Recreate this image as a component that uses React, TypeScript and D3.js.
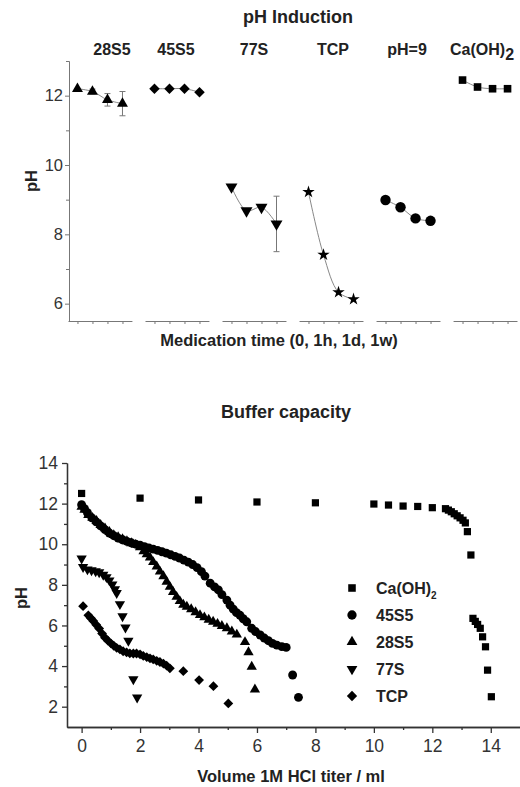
import React, { useEffect, useRef } from 'react';
import * as d3 from 'd3';

// --- pH induction (top) ---
const groups = ['28S5', '45S5', '77S', 'TCP', 'pH=9', 'Ca(OH)2'];
const times = ['0', '1h', '1d', '1w'];
const ph28S5 = [12.2, 12.12, 11.88, 11.77];
const err28S5 = [0, 0.07, 0.18, 0.35];
const ph45S5 = [12.2, 12.2, 12.2, 12.1];
const ph77S = [9.37, 8.68, 8.78, 8.3];
const err77S = [0, 0, 0, 0.8];
const phTCP = [9.22, 7.41, 6.33, 6.13];
const phPH9 = [8.99, 8.78, 8.46, 8.39];
const phCaOH = [12.45, 12.25, 12.2, 12.2];

// --- Buffer capacity (bottom): [ml, pH] ---
const bufCaOH = [
  [0, 12.5], [2, 12.27], [4, 12.18], [6, 12.08], [8, 12.04], [10, 11.98], [10.5, 11.93],
  [11, 11.88], [11.5, 11.86], [12, 11.8], [12.45, 11.75], [12.55, 11.68], [12.65, 11.6],
  [12.75, 11.5], [12.85, 11.4], [12.95, 11.3], [13.05, 11.18], [13.13, 11.05], [13.2, 10.62],
  [13.32, 9.47], [13.39, 6.35], [13.47, 6.2], [13.55, 6.05], [13.64, 5.86], [13.72, 5.44],
  [13.82, 4.95], [13.89, 3.8], [14.02, 2.49],
];
const buf45S5 = [
  [0, 11.95], [0.1, 11.75], [0.2, 11.55], [0.35, 11.3], [0.5, 11.1], [0.65, 10.9], [0.8, 10.72],
  [0.95, 10.55], [1.1, 10.42], [1.25, 10.3], [1.4, 10.22], [1.55, 10.14], [1.7, 10.07],
  [1.85, 10.0], [2.0, 9.95], [2.15, 9.88], [2.3, 9.82], [2.45, 9.76], [2.6, 9.7], [2.75, 9.63],
  [2.9, 9.56], [3.05, 9.48], [3.2, 9.4], [3.35, 9.32], [3.5, 9.22], [3.65, 9.12], [3.8, 9.0],
  [3.95, 8.85], [4.1, 8.65], [4.22, 8.43], [4.4, 8.08], [4.55, 7.9], [4.68, 7.75], [4.8, 7.52],
  [4.97, 7.25], [5.08, 7.0], [5.19, 6.8], [5.3, 6.63], [5.42, 6.5], [5.53, 6.33], [5.65, 6.18],
  [5.82, 5.86], [5.95, 5.7], [6.11, 5.53], [6.25, 5.38], [6.39, 5.25], [6.53, 5.12], [6.68, 5.03],
  [6.85, 4.96], [7.0, 4.92], [7.22, 3.56], [7.42, 2.46],
];
const buf28S5 = [
  [0, 11.85], [0.1, 11.7], [0.23, 11.44], [0.37, 11.3], [0.51, 11.15], [0.65, 10.95], [0.8, 10.78],
  [0.95, 10.6], [1.1, 10.45], [1.25, 10.35], [1.4, 10.25], [1.55, 10.15], [1.7, 10.05],
  [1.85, 9.97], [2.0, 9.85], [2.12, 9.65], [2.23, 9.5], [2.34, 9.35], [2.45, 9.12], [2.57, 8.9],
  [2.68, 8.65], [2.8, 8.42], [2.91, 8.15], [3.02, 7.9], [3.13, 7.65], [3.25, 7.41], [3.36, 7.2],
  [3.48, 7.02], [3.6, 6.92], [3.75, 6.8], [3.9, 6.65], [4.05, 6.51], [4.2, 6.4], [4.35, 6.28],
  [4.5, 6.18], [4.65, 6.08], [4.8, 5.97], [4.97, 5.86], [5.14, 5.7], [5.31, 5.55], [5.59, 5.18],
  [5.71, 4.68], [5.82, 3.97], [5.93, 2.85],
];
const buf77S = [
  [0, 9.3], [0.05, 8.88], [0.2, 8.76], [0.34, 8.72], [0.48, 8.67], [0.6, 8.62], [0.74, 8.5],
  [0.85, 8.38], [0.95, 8.22], [1.05, 8.02], [1.14, 7.78], [1.2, 7.6], [1.31, 7.05], [1.4, 6.45],
  [1.5, 5.9], [1.6, 5.25], [1.77, 3.35], [1.9, 2.45],
];
const bufTCP = [
  [0.05, 6.95], [0.23, 6.5], [0.32, 6.35], [0.4, 6.22], [0.5, 6.03], [0.6, 5.85], [0.7, 5.6],
  [0.8, 5.4], [0.9, 5.25], [1.0, 5.12], [1.1, 5.0], [1.2, 4.9], [1.31, 4.82], [1.42, 4.73],
  [1.54, 4.67], [1.65, 4.63], [1.77, 4.62], [1.88, 4.62], [2.0, 4.58], [2.11, 4.5], [2.23, 4.44],
  [2.34, 4.38], [2.45, 4.33], [2.57, 4.26], [2.68, 4.2], [2.8, 4.12], [2.91, 4.02], [3.02, 3.89],
  [3.48, 3.75], [4.02, 3.31], [4.51, 3.01], [5.02, 2.16],
];

const FONT = "'Liberation Sans', Arial, Helvetica, sans-serif";
const INK = '#222';

// square diamond (rotated square)
const symbolDiamondSq = {
  draw(ctx: any, size: number) {
    const r = Math.sqrt(size / 2);
    ctx.moveTo(0, -r);
    ctx.lineTo(r, 0);
    ctx.lineTo(0, r);
    ctx.lineTo(-r, 0);
    ctx.closePath();
  },
};

const App = () => {
  const svgRef = useRef<SVGSVGElement>(null);

  useEffect(() => {
    const svg = d3.select(svgRef.current);
    svg.selectAll('*').remove();

    // ================= Top chart =================
    const top = svg.append('g');
    const xGroup = d3.scaleBand().domain(groups).range([68, 517]).paddingInner(0.17);
    const xTime = d3.scalePoint().domain(times).range([0, xGroup.bandwidth()]).padding(0.63);
    const yTop = d3.scaleLinear().domain([5.5, 13]).range([321, 61]);

    const series = [
      { g: '28S5', v: ph28S5, e: err28S5, sym: d3.symbolTriangle, size: 52, rot: 0 },
      { g: '45S5', v: ph45S5, e: null, sym: symbolDiamondSq, size: 55, rot: 0 },
      { g: '77S', v: ph77S, e: err77S, sym: d3.symbolTriangle, size: 62, rot: 180 },
      { g: 'TCP', v: phTCP, e: null, sym: d3.symbolStar, size: 48, rot: 0 },
      { g: 'pH=9', v: phPH9, e: null, sym: d3.symbolCircle, size: 85, rot: 0 },
      { g: 'Ca(OH)2', v: phCaOH, e: null, sym: d3.symbolSquare, size: 58, rot: 0 },
    ];

    // y axis
    top.append('g')
      .attr('transform', 'translate(69,0)')
      .call(d3.axisLeft(yTop).tickValues([7, 9, 11, 13]).tickSize(3).tickSizeOuter(0).tickFormat(() => ''))
      .call((g) => g.selectAll('line,path').attr('stroke', '#777'));
    top.append('g')
      .attr('transform', 'translate(69,0)')
      .call(d3.axisLeft(yTop).tickValues([6, 8, 10, 12]).tickSize(4).tickPadding(2).tickSizeOuter(0))
      .call((g) => g.selectAll('line,path').attr('stroke', '#777'))
      .call((g) => g.selectAll('text').attr('font-family', FONT).attr('font-size', 16.5).attr('fill', '#333'));

    // broken x axis segments
    groups.forEach((grp) => {
      top.append('g')
        .attr('transform', `translate(${xGroup(grp)},321)`)
        .call(d3.axisBottom(xTime).tickSize(3).tickSizeOuter(0).tickFormat(() => ''))
        .call((g) => g.selectAll('line,path').attr('stroke', '#777'));
    });

    const line = d3.line<number>()
      .curve(d3.curveCatmullRom)
      .x((d, i) => xTime(times[i]) as number)
      .y((d) => yTop(d));

    series.forEach((s) => {
      const gx = xGroup(s.g) as number;
      const g = top.append('g').attr('transform', `translate(${gx},0)`);
      g.append('path').attr('d', line(s.v)).attr('fill', 'none').attr('stroke', '#888').attr('stroke-width', 1);
      if (s.e) {
        s.v.forEach((v, i) => {
          const e = s.e![i];
          if (!e) return;
          const cx = xTime(times[i]) as number;
          g.append('line').attr('x1', cx).attr('x2', cx).attr('y1', yTop(v - e)).attr('y2', yTop(v + e))
            .attr('stroke', '#777').attr('stroke-width', 1);
          [v - e, v + e].forEach((yy) => {
            g.append('line').attr('x1', cx - 3).attr('x2', cx + 3).attr('y1', yTop(yy)).attr('y2', yTop(yy))
              .attr('stroke', '#777').attr('stroke-width', 1);
          });
        });
      }
      g.selectAll('.m')
        .data(s.v)
        .enter()
        .append('path')
        .attr('d', d3.symbol().type(s.sym as any).size(s.size)())
        .attr('transform', (d, i) => `translate(${xTime(times[i])},${yTop(d)}) rotate(${s.rot})`)
        .attr('fill', '#000');
    });

    // group labels
    const labelNudge = [12, -1, 0, 2, -1, -3];
    groups.forEach((grp, i) => {
      const t = top.append('text')
        .attr('x', (xGroup(grp) as number) + xGroup.bandwidth() / 2 + labelNudge[i])
        .attr('y', 55)
        .attr('text-anchor', 'middle')
        .attr('font-family', FONT)
        .attr('font-weight', 'bold')
        .attr('font-size', 16)
        .attr('fill', INK);
      if (grp === 'Ca(OH)2') {
        t.append('tspan').text('Ca(OH)');
        t.append('tspan').attr('dy', 5).text('2');
      } else {
        t.text(grp);
      }
    });

    top.append('text').attr('x', 298).attr('y', 23).attr('text-anchor', 'middle')
      .attr('font-family', FONT).attr('font-weight', 'bold').attr('font-size', 18).attr('fill', INK)
      .text('pH Induction');
    top.append('text').attr('transform', 'translate(37,181) rotate(-90)').attr('text-anchor', 'middle')
      .attr('font-family', FONT).attr('font-weight', 'bold').attr('font-size', 16.5).attr('fill', INK)
      .text('pH');
    top.append('text').attr('x', 279).attr('y', 346).attr('text-anchor', 'middle')
      .attr('font-family', FONT).attr('font-weight', 'bold').attr('font-size', 16.5).attr('fill', INK)
      .text('Medication time (0, 1h, 1d, 1w)');

    // ================= Bottom chart =================
    const bot = svg.append('g');
    const xB = d3.scaleLinear().domain([-0.5, 15]).range([67, 520]);
    const yB = d3.scaleLinear().domain([1, 14]).range([727, 463]);

    bot.append('g').attr('transform', 'translate(0,727)')
      .call(d3.axisBottom(xB).tickValues([1, 3, 5, 7, 9, 11, 13]).tickSize(3).tickSizeOuter(0).tickFormat(() => ''))
      .call((g) => g.selectAll('line,path').attr('stroke', '#333').attr('stroke-width', 1.3));
    bot.append('g').attr('transform', 'translate(0,727)')
      .call(d3.axisBottom(xB).tickValues(d3.range(0, 15, 2)).tickSize(6).tickPadding(7).tickSizeOuter(0))
      .call((g) => g.selectAll('line,path').attr('stroke', '#333').attr('stroke-width', 1.3))
      .call((g) => g.selectAll('text').attr('font-family', FONT).attr('font-size', 17.5).attr('fill', '#333'));
    bot.append('g').attr('transform', 'translate(67,0)')
      .call(d3.axisLeft(yB).tickValues([3, 5, 7, 9, 11, 13]).tickSize(3).tickSizeOuter(0).tickFormat(() => ''))
      .call((g) => g.selectAll('line,path').attr('stroke', '#333').attr('stroke-width', 1.3));
    bot.append('g').attr('transform', 'translate(67,0)')
      .call(d3.axisLeft(yB).tickValues(d3.range(2, 15, 2)).tickSize(5).tickPadding(4).tickSizeOuter(0))
      .call((g) => g.selectAll('line,path').attr('stroke', '#333').attr('stroke-width', 1.3))
      .call((g) => g.selectAll('text').attr('font-family', FONT).attr('font-size', 17.5).attr('fill', '#333'));

    const bufSeries = [
      { name: 'Ca(OH)2', data: bufCaOH, sym: d3.symbolSquare, size: 52, rot: 0 },
      { name: '45S5', data: buf45S5, sym: d3.symbolCircle, size: 62, rot: 0 },
      { name: '28S5', data: buf28S5, sym: d3.symbolTriangle, size: 46, rot: 0 },
      { name: '77S', data: buf77S, sym: d3.symbolTriangle, size: 46, rot: 180 },
      { name: 'TCP', data: bufTCP, sym: symbolDiamondSq, size: 48, rot: 0 },
    ];

    bufSeries.forEach((s) => {
      bot.append('g').selectAll('path')
        .data(s.data)
        .enter()
        .append('path')
        .attr('d', d3.symbol().type(s.sym as any).size(s.size)())
        .attr('transform', (d) => `translate(${xB(d[0])},${yB(d[1])}) rotate(${s.rot})`)
        .attr('fill', '#000');
    });

    // legend
    const legend = bot.append('g').attr('transform', 'translate(352,588)');
    bufSeries.forEach((s, i) => {
      const row = legend.append('g').attr('transform', `translate(0,${i * 27})`);
      row.append('path')
        .attr('d', d3.symbol().type(s.sym as any).size(s.size * 1.1)())
        .attr('transform', `rotate(${s.rot})`)
        .attr('fill', '#000');
      const t = row.append('text').attr('x', 24).attr('y', 6)
        .attr('font-family', FONT).attr('font-weight', 'bold').attr('font-size', 16).attr('fill', INK);
      if (s.name === 'Ca(OH)2') {
        t.append('tspan').text('Ca(OH)');
        t.append('tspan').attr('dy', 5).attr('font-size', 10).text('2');
      } else {
        t.text(s.name);
      }
    });

    bot.append('text').attr('x', 286).attr('y', 418).attr('text-anchor', 'middle')
      .attr('font-family', FONT).attr('font-weight', 'bold').attr('font-size', 18).attr('fill', INK)
      .text('Buffer capacity');
    bot.append('text').attr('transform', 'translate(27,598) rotate(-90)').attr('text-anchor', 'middle')
      .attr('font-family', FONT).attr('font-weight', 'bold').attr('font-size', 16.5).attr('fill', INK)
      .text('pH');
    bot.append('text').attr('x', 291).attr('y', 782).attr('text-anchor', 'middle')
      .attr('font-family', FONT).attr('font-weight', 'bold').attr('font-size', 16.5).attr('fill', INK)
      .text('Volume 1M HCl titer / ml');
  }, []);

  return (
    <svg
      ref={svgRef}
      width={520}
      height={787}
      style={{ position: 'absolute', left: 0, top: 0, background: '#fff' }}
    ></svg>
  );
};

export default App;
